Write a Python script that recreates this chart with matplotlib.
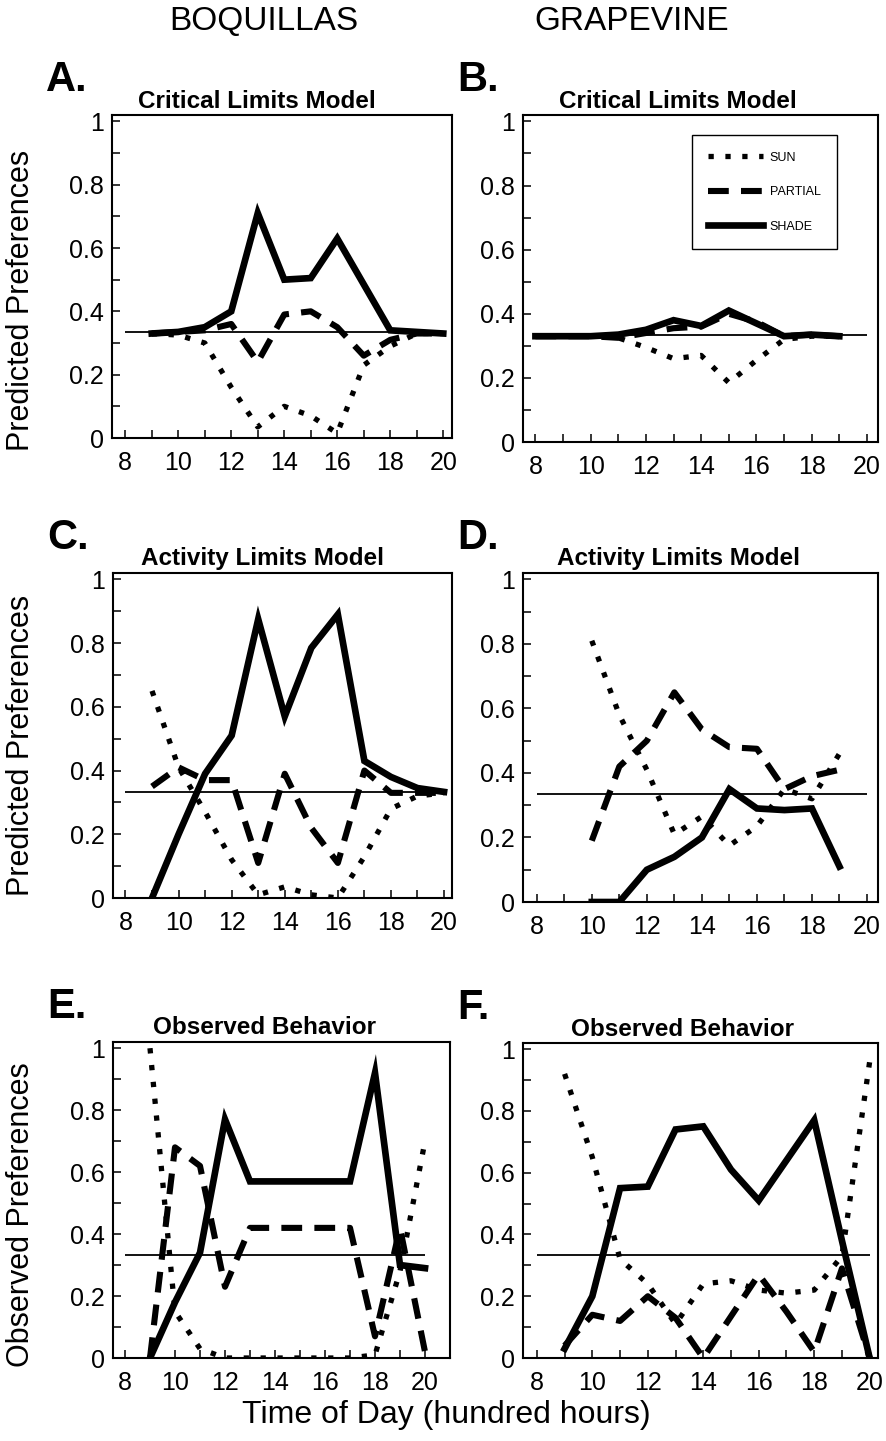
import numpy as np
import matplotlib
matplotlib.use('Agg')
import matplotlib.pyplot as plt
from matplotlib.ticker import MultipleLocator, FuncFormatter

plt.rcParams['font.family'] = ['Liberation Sans', 'DejaVu Sans']

# A. Boquillas, critical limits model
hours_a = [9, 10, 11, 12, 13, 14, 15, 16, 17, 18, 19, 20]
a_sun = [0.33, 0.325, 0.30, 0.16, 0.035, 0.10, 0.07, 0.015, 0.23, 0.29, 0.33, 0.33]
a_partial = [0.33, 0.335, 0.34, 0.36, 0.24, 0.39, 0.40, 0.35, 0.26, 0.31, 0.33, 0.33]
a_shade = [0.33, 0.335, 0.35, 0.40, 0.71, 0.50, 0.505, 0.63, 0.485, 0.34, 0.335, 0.33]

# B. Grapevine, critical limits model
hours_b = [8, 9, 10, 11, 12, 13, 14, 15, 16, 17, 18, 19]
b_sun = [0.33, 0.33, 0.33, 0.325, 0.295, 0.26, 0.27, 0.185, 0.255, 0.32, 0.33, 0.33]
b_partial = [0.33, 0.33, 0.33, 0.325, 0.34, 0.355, 0.36, 0.40, 0.375, 0.33, 0.335, 0.33]
b_shade = [0.33, 0.33, 0.33, 0.335, 0.35, 0.38, 0.362, 0.41, 0.37, 0.33, 0.335, 0.33]

# C. Boquillas, activity limits model
hours_c = [9, 10, 11, 12, 13, 14, 15, 16, 17, 18, 19, 20]
c_sun = [0.65, 0.41, 0.27, 0.12, 0.01, 0.035, 0.01, 0.0, 0.13, 0.28, 0.32, 0.33]
c_partial = [0.35, 0.41, 0.37, 0.37, 0.11, 0.39, 0.22, 0.11, 0.40, 0.33, 0.33, 0.33]
c_shade = [0.0, 0.2, 0.39, 0.51, 0.875, 0.57, 0.785, 0.89, 0.43, 0.38, 0.345, 0.333]

# D. Grapevine, activity limits model
hours_d = [10, 11, 12, 13, 14, 15, 16, 17, 18, 19]
d_sun = [0.81, 0.58, 0.41, 0.21, 0.265, 0.175, 0.235, 0.35, 0.32, 0.46]
d_partial = [0.19, 0.42, 0.50, 0.65, 0.535, 0.48, 0.475, 0.35, 0.39, 0.41]
d_shade = [0.0, 0.0, 0.10, 0.14, 0.20, 0.35, 0.29, 0.285, 0.29, 0.11]

# E. Boquillas, observed
hours_e = [9, 10, 11, 12, 13, 14, 15, 16, 17, 18, 19, 20]
e_sun = [1.0, 0.15, 0.03, 0.0, 0.0, 0.0, 0.0, 0.0, 0.0, 0.01, 0.28, 0.70]
e_partial = [0.0, 0.68, 0.62, 0.23, 0.42, 0.42, 0.42, 0.42, 0.42, 0.07, 0.42, 0.02]
e_shade = [0.0, 0.18, 0.34, 0.77, 0.57, 0.57, 0.57, 0.57, 0.57, 0.92, 0.30, 0.29]

# F. Grapevine, observed
hours_f = [9, 10, 11, 12, 13, 14, 15, 16, 17, 18, 19, 20]
f_sun = [0.92, 0.65, 0.32, 0.24, 0.11, 0.24, 0.25, 0.22, 0.21, 0.22, 0.33, 0.96]
f_partial = [0.04, 0.14, 0.12, 0.20, 0.13, 0.0, 0.135, 0.27, 0.15, 0.02, 0.29, 0.0]
f_shade = [0.03, 0.20, 0.55, 0.555, 0.74, 0.75, 0.61, 0.51, 0.64, 0.77, 0.38, 0.0]

chance = 1 / 3
chance_span = (8, 20)

panels = [
    ('A.', 'Critical Limits Model', hours_a, a_sun, a_partial, a_shade, (7.5, 20.33)),
    ('B.', 'Critical Limits Model', hours_b, b_sun, b_partial, b_shade, (7.55, 20.4)),
    ('C.', 'Activity Limits Model', hours_c, c_sun, c_partial, c_shade, (7.53, 20.3)),
    ('D.', 'Activity Limits Model', hours_d, d_sun, d_partial, d_shade, (7.5, 20.4)),
    ('E.', 'Observed Behavior', hours_e, e_sun, e_partial, e_shade, (7.52, 21.0)),
    ('F.', 'Observed Behavior', hours_f, f_sun, f_partial, f_shade, (7.5, 20.3)),
]

# axes boxes in pixels: left, top, right, bottom
boxes = [
    (112, 115, 452, 438),
    (523, 115, 878, 442),
    (113, 573, 452, 898),
    (523, 573, 878, 902),
    (113, 1042, 450, 1358),
    (523, 1043, 878, 1358),
]
title_x = [0.426, 0.437, 0.44, 0.437, 0.45, 0.45]

W, H = 887, 1441
fig = plt.figure(figsize=(W / 100, H / 100), dpi=100)


def fmt(v, pos):
    if abs(v) < 1e-9:
        return '0'
    if abs(v - 1) < 1e-9:
        return '1'
    return '%.1f' % v


for (letter, title, hrs, sun, partial, shade, xlim), (l, t, r, b), tx in zip(panels, boxes, title_x):
    ax = fig.add_axes([l / W, 1 - b / H, (r - l) / W, (b - t) / H])
    ax.hlines(chance, *chance_span, color='black', lw=1.3)
    ax.plot(hrs, sun, color='black', lw=3.8, linestyle=(0, (1.0, 2.2)), label='SUN')
    ax.plot(hrs, partial, color='black', lw=4.4, linestyle=(0, (3.4, 2.0)), label='PARTIAL')
    ax.plot(hrs, shade, color='black', lw=4.8, solid_joinstyle='miter', label='SHADE')
    ax.set_xlim(*xlim)
    ax.set_ylim(0, 1.02)
    ax.set_xticks(range(8, 21, 2))
    ax.xaxis.set_minor_locator(MultipleLocator(1))
    ax.yaxis.set_major_locator(MultipleLocator(0.2))
    ax.yaxis.set_minor_locator(MultipleLocator(0.1))
    ax.yaxis.set_major_formatter(FuncFormatter(fmt))
    ax.tick_params(which='both', direction='in', length=6, width=1.1, labelsize=18)
    ax.tick_params(axis='y', pad=6)
    ax.tick_params(axis='x', pad=9)
    for s in ax.spines.values():
        s.set_linewidth(1.5)
    ax.text(tx, 1 + 14 / (b - t), title, transform=ax.transAxes, fontsize=17.5,
            fontweight='bold', ha='center', va='center')
    fig.text(l / W - 0.074, 1 - (t - 35) / H, letter, fontsize=30, fontweight='bold',
             ha='left', va='center')
    if letter == 'B.':
        ax.legend(loc='upper left', bbox_to_anchor=(0.459, 0.957), fontsize=9,
                  frameon=True, fancybox=False, edgecolor='black', framealpha=1,
                  handlelength=4.4, handletextpad=0.5, labelspacing=1.8,
                  borderpad=1.3)

fig.text(264 / W, 1 - 22 / H, 'BOQUILLAS', fontsize=24, ha='center', va='center')
fig.text(632 / W, 1 - 22 / H, 'GRAPEVINE', fontsize=24, ha='center', va='center')
fig.text(21 / W, 1 - 300 / H, 'Predicted Preferences', fontsize=22, rotation=90,
         ha='center', va='center')
fig.text(21 / W, 1 - 745 / H, 'Predicted Preferences', fontsize=22, rotation=90,
         ha='center', va='center')
fig.text(21 / W, 1 - 1215 / H, 'Observed Preferences', fontsize=22, rotation=90,
         ha='center', va='center')
fig.text(446 / W, 1 - 1415 / H, 'Time of Day (hundred hours)', fontsize=23,
         ha='center', va='center')

fig.savefig('out.png', dpi=100)
